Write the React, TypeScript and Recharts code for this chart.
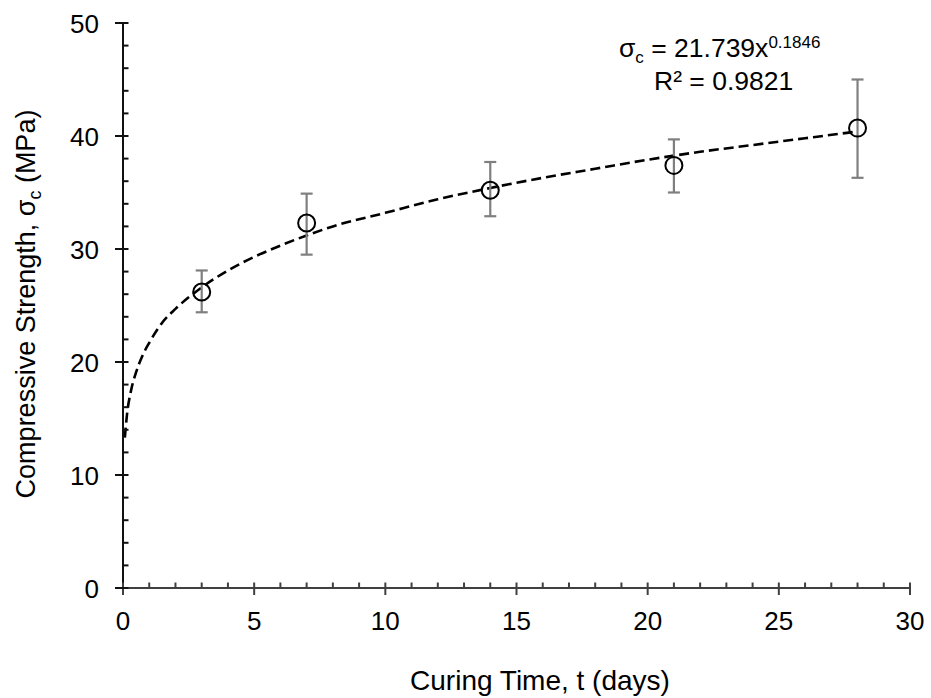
import React from 'react';
import { ComposedChart, XAxis, YAxis, Scatter, Line, ErrorBar, Customized } from 'recharts';

const curingDays = [3, 7, 14, 21, 28];
const strengthMean = [26.2, 32.3, 35.2, 37.4, 40.7];
const strengthLow = [24.4, 29.5, 32.9, 35.0, 36.3];
const strengthHigh = [28.1, 34.9, 37.7, 39.7, 45.0];

const trendDays = [0.07, 0.15, 0.3, 0.5, 0.75, 1, 1.5, 2, 3, 4, 5, 6, 7, 8, 10, 12, 14, 16, 18, 20, 22, 24, 26, 28];
const trendStrength = [13.3, 15.3, 17.4, 19.1, 20.6, 21.7, 23.5, 24.7, 26.6, 28.1, 29.3, 30.3, 31.2, 32.0, 33.2, 34.4, 35.4, 36.3, 37.1, 37.9, 38.6, 39.2, 39.8, 40.4];

const xTicks = [0, 1, 2, 3, 4, 5, 6, 7, 8, 9, 10, 11, 12, 13, 14, 15, 16, 17, 18, 19, 20, 21, 22, 23, 24, 25, 26, 27, 28, 29, 30];
const xMajorTicks = [0, 5, 10, 15, 20, 25, 30];
const yTicks = [0, 2, 4, 6, 8, 10, 12, 14, 16, 18, 20, 22, 24, 26, 28, 30, 32, 34, 36, 38, 40, 42, 44, 46, 48, 50];
const yMajorTicks = [0, 10, 20, 30, 40, 50];

const FONT = '"Liberation Sans", Arial, sans-serif';

const points = curingDays.map((d, i) => ({
  x: d,
  y: strengthMean[i],
  err: [strengthMean[i] - strengthLow[i], strengthHigh[i] - strengthMean[i]],
}));
const trend = trendDays.map((d, i) => ({ x: d, y: trendStrength[i] }));

const XTick = (props: any) => {
  const { x, y, payload } = props;
  const v = payload.value;
  const major = xMajorTicks.includes(v);
  return (
    <g>
      <line x1={x} x2={x} y1={y - 5.5} y2={major ? y + 7 : y} stroke="#404040" strokeWidth={2} />
      {major && (
        <text x={x} y={y + 42} textAnchor="middle" fontFamily={FONT} fontSize={26} fill="#000">
          {v}
        </text>
      )}
    </g>
  );
};

const YTick = (props: any) => {
  const { x, y, payload } = props;
  const v = payload.value;
  const major = yMajorTicks.includes(v);
  return (
    <g>
      <line x1={major ? x - 8 : x} x2={x + 5.5} y1={y} y2={y} stroke="#111" strokeWidth={2} />
      {major && (
        <text x={x - 24} y={y + 9.5} textAnchor="end" fontFamily={FONT} fontSize={26} fill="#000">
          {v}
        </text>
      )}
    </g>
  );
};

const Annotations = () => (
  <g fontFamily={FONT} fill="#000">
    <text x={619} y={57} fontSize={26.5}>
      σ<tspan fontSize={17} dy={6}>c</tspan>
      <tspan dy={-6}> = 21.739x</tspan>
      <tspan fontSize={17} dy={-9}>0.1846</tspan>
    </text>
    <text x={654} y={90} fontSize={26.5}>R² = 0.9821</text>
    <text x={540} y={690} fontSize={28} textAnchor="middle">Curing Time, t (days)</text>
    <text x={35} y={304} fontSize={27} textAnchor="middle" transform="rotate(-90, 35, 304)">
      Compressive Strength, σ<tspan fontSize={18} dy={6}>c</tspan>
      <tspan dy={-6}> (MPa)</tspan>
    </text>
  </g>
);

const CircleShape = (p: any) => (
  <circle cx={p.cx} cy={p.cy} r={8.5} fill="none" stroke="#000" strokeWidth={2} />
);

export default function App() {
  return (
    <div style={{ position: 'absolute', left: 0, top: 0, width: 931, height: 698, background: '#fff' }}>
      <ComposedChart width={931} height={698} margin={{ top: 23, right: 21, bottom: 0, left: 0 }}>
        <XAxis
          type="number"
          dataKey="x"
          domain={[0, 30]}
          ticks={xTicks}
          interval={0}
          tickSize={0}
          tickMargin={0}
          tickLine={false}
          tick={<XTick />}
          height={110}
          axisLine={{ stroke: '#404040', strokeWidth: 2 }}
          allowDataOverflow
        />
        <YAxis
          type="number"
          domain={[0, 50]}
          ticks={yTicks}
          interval={0}
          tickSize={0}
          tickMargin={0}
          tickLine={false}
          tick={<YTick />}
          width={123}
          axisLine={{ stroke: '#111', strokeWidth: 2 }}
          allowDataOverflow
        />
        <Line
          data={trend}
          dataKey="y"
          type="monotone"
          stroke="#000"
          strokeWidth={2.6}
          strokeDasharray="10 5"
          dot={false}
          activeDot={false}
          isAnimationActive={false}
        />
        <Scatter data={points} dataKey="y" shape={<CircleShape />} isAnimationActive={false}>
          <ErrorBar dataKey="err" direction="y" width={6} stroke="#7f7f7f" strokeWidth={2.2} isAnimationActive={false} />
        </Scatter>
        <Customized component={<Annotations />} />
      </ComposedChart>
    </div>
  );
}
